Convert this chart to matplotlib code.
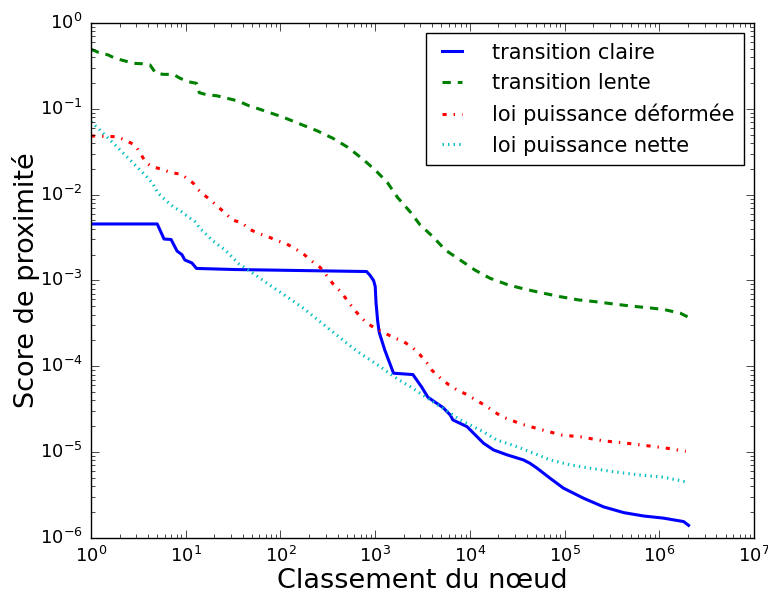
import matplotlib
matplotlib.use("Agg")
import matplotlib.pyplot as plt

# ---- data ----
labels = ["transition claire", "transition lente",
          "loi puissance déformée", "loi puissance nette"]

claire_x = [1, 5.0, 5.9, 7.0, 8.1, 9.1, 9.8, 11.6, 13, 33, 810, 880, 960, 1000,
            1020, 1060, 1100, 1260, 1560, 2500, 3100, 3600, 5200, 6200, 6600,
            9300, 13900, 17700, 24500, 36700, 43000, 51000, 70000, 97000,
            158000, 257000, 420000, 680000, 1.1e6, 1.8e6, 2.03e6]
claire_y = [4.55e-3, 4.55e-3, 3.04e-3, 3.0e-3, 2.2e-3, 2.0e-3, 1.73e-3, 1.6e-3,
            1.38e-3, 1.34e-3, 1.27e-3, 1.15e-3, 1.0e-3, 8.5e-4, 5.5e-4, 3.4e-4,
            2.5e-4, 1.55e-4, 8.3e-5, 8.0e-5, 5.7e-5, 4.35e-5, 3.3e-5, 2.7e-5,
            2.37e-5, 1.98e-5, 1.27e-5, 1.06e-5, 9.3e-6, 8.1e-6, 7.4e-6, 6.5e-6,
            4.96e-6, 3.8e-6, 2.9e-6, 2.3e-6, 1.97e-6, 1.8e-6, 1.7e-6, 1.55e-6,
            1.4e-6]

lente_x = [1, 1.19, 1.52, 1.79, 2.29, 2.75, 3.48, 4.2, 4.82, 5.8, 7.4, 8.7, 10.6,
           13.0, 13.9, 16.6, 21.2, 25.6, 32.1, 38.4, 47, 57, 71.7, 107, 161, 242,
           357, 514, 721, 998, 1346, 1716, 2338, 2980, 4120, 5470, 7880, 11300,
           16300, 25500, 38300, 59700, 89600, 140000, 210000, 327000, 492000,
           740000, 1.1e6, 1.66e6, 2.03e6]
lente_y = [0.494, 0.456, 0.424, 0.388, 0.361, 0.339, 0.335, 0.324, 0.26, 0.252,
           0.252, 0.227, 0.207, 0.198, 0.154, 0.146, 0.142, 0.135, 0.127, 0.119,
           0.108, 0.101, 0.0926, 0.0797, 0.0665, 0.0556, 0.0454, 0.0356, 0.0265,
           0.0194, 0.0138, 9.3e-3, 6.3e-3, 4.43e-3, 3.19e-3, 2.27e-3, 1.73e-3,
           1.32e-3, 1.06e-3, 8.85e-4, 7.9e-4, 7.1e-4, 6.47e-4, 5.93e-4, 5.66e-4,
           5.32e-4, 5.04e-4, 4.82e-4, 4.6e-4, 4.15e-4, 3.72e-4]

deformee_x = [1, 1.87, 2.19, 2.91, 3.24, 3.78, 4.37, 5.66, 7.0, 9.0, 12, 13,
              14.8, 17.9, 26, 31, 39, 47, 58, 74, 93, 117, 145, 178, 217, 262,
              309, 362, 426, 500, 584, 680, 810, 1020, 1250, 1590, 1980, 2500,
              2970, 3500, 4000, 4870, 5950, 7300, 9200, 11300, 14100, 17700,
              21600, 35000, 56000, 93000, 150000, 257000, 420000, 680000,
              1.14e6, 1.9e6]
deformee_y = [0.0483, 0.0473, 0.0441, 0.0379, 0.0316, 0.0238, 0.0212, 0.0197,
              0.018, 0.0173, 0.0136, 0.0119, 0.0104, 8.8e-3, 6.1e-3, 5.07e-3,
              4.7e-3, 3.95e-3, 3.55e-3, 3.23e-3, 2.9e-3, 2.65e-3, 2.32e-3,
              2.0e-3, 1.66e-3, 1.42e-3, 1.13e-3, 9.0e-4, 7.5e-4, 6.0e-4, 4.74e-4,
              3.9e-4, 3.2e-4, 2.73e-4, 2.45e-4, 2.14e-4, 1.95e-4, 1.64e-4,
              1.36e-4, 1.1e-4, 8.9e-5, 7.3e-5, 6.1e-5, 5.3e-5, 4.7e-5, 4.1e-5,
              3.55e-5, 3.0e-5, 2.59e-5, 2.12e-5, 1.83e-5, 1.58e-5, 1.5e-5,
              1.35e-5, 1.28e-5, 1.2e-5, 1.12e-5, 1.02e-5]

nette_x = [1, 1.24, 1.52, 1.87, 2.29, 2.8, 3.43, 4.03, 4.55, 5.1, 6.05, 7.4, 9.1,
           10.6, 12.5, 14.1, 16, 18.8, 22, 26, 30.6, 35.9, 45.8, 58, 81, 116,
           175, 262, 394, 585, 690, 880, 1130, 1450, 1830, 2340, 2980, 3800,
           4870, 6200, 7900, 10000, 13800, 19000, 31000, 47000, 70000, 114000,
           184000, 330000, 630000, 1.1e6, 1.9e6]
nette_y = [0.0708, 0.0567, 0.0454, 0.0362, 0.029, 0.0232, 0.0185, 0.0155, 0.013,
           0.0104, 8.7e-3, 7.2e-3, 6.3e-3, 5.5e-3, 4.85e-3, 4.05e-3, 3.55e-3,
           2.97e-3, 2.59e-3, 2.27e-3, 1.89e-3, 1.58e-3, 1.32e-3, 1.1e-3, 8.5e-4,
           6.5e-4, 4.74e-4, 3.3e-4, 2.3e-4, 1.62e-4, 1.42e-4, 1.19e-4, 9.9e-5,
           8.1e-5, 6.8e-5, 5.8e-5, 4.85e-5, 4.05e-5, 3.39e-5, 2.84e-5, 2.37e-5,
           2.07e-5, 1.73e-5, 1.39e-5, 1.16e-5, 9.7e-6, 8.1e-6, 7.1e-6, 6.5e-6,
           5.9e-6, 5.4e-6, 5.1e-6, 4.5e-6]

x_label = "Classement du nœud"
y_label = "Score de proximité"

# ---- style ----
plt.style.use("classic")
plt.rcParams.update({
    "font.family": ["DejaVu Sans"],
    "mathtext.fontset": "dejavusans",
    "mathtext.default": "regular",
    "figure.facecolor": "white",
    "savefig.facecolor": "white",
    "axes.facecolor": "white",
    "lines.scale_dashes": False,
})

fig = plt.figure(figsize=(7.68, 5.97), dpi=100)
ax = fig.add_axes([0.1185, 0.099, 0.8635, 0.8625])

ax.plot(claire_x, claire_y, color="#0000ff", linestyle="-", linewidth=2.2,
        label=labels[0])
ax.plot(lente_x, lente_y, color="#008000", linestyle=(0, (6, 5)), linewidth=2.2,
        label=labels[1])
ax.plot(deformee_x, deformee_y, color="#ff0000", linestyle=(0, (3, 5, 1, 5)),
        linewidth=2.2, label=labels[2])
ax.plot(nette_x, nette_y, color="#00bfbf", linestyle=(0, (1, 3)), linewidth=2.2,
        label=labels[3])

ax.set_xscale("log")
ax.set_yscale("log")
ax.set_xlim(1, 1e7)
ax.set_ylim(1e-6, 1)

ax.tick_params(which="both", direction="in", top=True, right=True,
               labelsize=13)
ax.tick_params(which="major", length=5.5, pad=6)
ax.tick_params(which="minor", length=3)

ax.set_xlabel(x_label, fontsize=19.5, labelpad=1)
ax.set_ylabel(y_label, fontsize=19.5, labelpad=0)

leg = ax.legend(loc="upper right", fontsize=15, handlelength=1.55,
                handletextpad=1.15, labelspacing=0.5, borderpad=0.45,
                frameon=True, fancybox=False, numpoints=2,
                borderaxespad=0.5)
leg.get_frame().set_edgecolor("black")

fig.savefig("out.png", dpi=100)
